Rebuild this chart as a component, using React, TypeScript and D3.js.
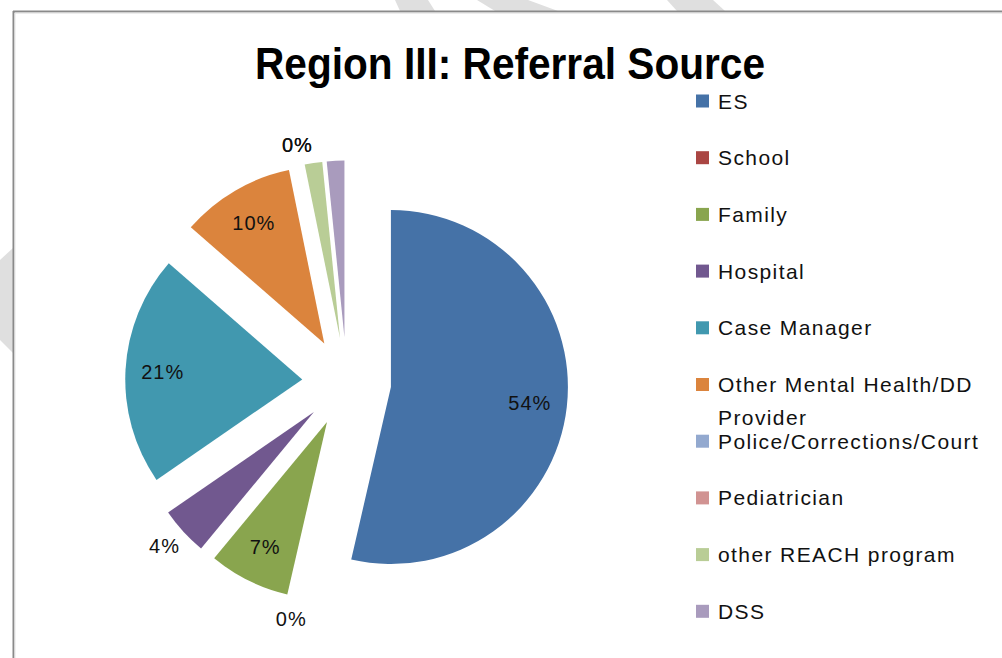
import React from "react";
import * as d3 from "d3";

// ---------- data ----------
const title = "Region III: Referral Source";
const categories = [
  "ES",
  "School",
  "Family",
  "Hospital",
  "Case Manager",
  "Other Mental Health/DD Provider",
  "Police/Corrections/Court",
  "Pediatrician",
  "other REACH program",
  "DSS",
];
const shares = [53.6, 0, 7.4, 4.4, 21.0, 10.4, 0, 0, 1.6, 1.6];
const colors = [
  "#4572A7",
  "#AA4643",
  "#89A54E",
  "#71588F",
  "#4198AF",
  "#DB843D",
  "#93A9CF",
  "#D19392",
  "#B9CD96",
  "#A99BBD",
];
// where each slice's percentage label goes
const labelModes = ["inside", "outside", "inside", "outside", "inside", "inside", "outside", "outside", "none", "none"];

// ---------- layout ----------
const W = 1002;
const H = 658;
const CX = 346.7;
const CY = 382;
const R = 177;
const EXPLODE = 44.5;
const FONT = "'Liberation Sans', Arial, sans-serif";
const LEGEND_FONT_SIZE = 21;
const LEGEND_LS = 1.4;
const LABEL_FONT_SIZE = 20;

let measureCtx: CanvasRenderingContext2D | null = null;
function textWidth(s: string, size: number, weight = "normal", ls = 0) {
  if (!measureCtx) {
    const c = document.createElement("canvas");
    measureCtx = c.getContext("2d");
  }
  if (!measureCtx) return s.length * size * 0.5;
  measureCtx.font = `${weight} ${size}px ${FONT}`;
  return measureCtx.measureText(s).width + ls * s.length;
}

function wrap(s: string, maxW: number): string[] {
  const words = s.split(" ");
  const lines: string[] = [];
  let cur = "";
  for (const w of words) {
    const test = cur ? cur + " " + w : w;
    if (cur && textWidth(test, LEGEND_FONT_SIZE, "normal", LEGEND_LS) > maxW) {
      lines.push(cur);
      cur = w;
    } else cur = test;
  }
  if (cur) lines.push(cur);
  return lines;
}

export default function App() {
  const total = d3.sum(shares);
  const pie = d3
    .pie<number>()
    .sort(null)
    .value((d) => d)
    .startAngle(0)
    .endAngle(2 * Math.PI);
  const arcs = pie(shares);
  const arcGen = d3.arc<d3.PieArcDatum<number>>().innerRadius(0).outerRadius(R);
  const fmt = d3.format(".0%");

  const legendX = 696;
  const legendBase0 = 108.5;
  const legendStep = 56.7;

  return (
    <svg
      width={W}
      height={H}
      style={{ position: "absolute", left: 0, top: 0, background: "#fff" }}
      fontFamily={FONT}
    >
      <rect x={0} y={0} width={W} height={H} fill="#fff" />
      {/* faint background watermark shapes */}
      <g fill="#dfdfdf">
        <polygon points="395,0 428,0 435,11 400,11" />
        <polygon points="477,0 528,0 558,11 495,11" />
        <polygon points="667,0 713,0 725,11 677,11" />
        <polygon points="13,248 0,260 0,340 13,353" />
      </g>
      {/* frame */}
      <line x1={13} y1={11.5} x2={W} y2={11.5} stroke="#8a8a8a" strokeWidth={2} />
      <line x1={13.5} y1={11} x2={13.5} y2={H} stroke="#8a8a8a" strokeWidth={2} />
      <line x1={15} y1={13} x2={W} y2={13} stroke="#dcdcdc" strokeWidth={1} />
      <line x1={15} y1={13} x2={15} y2={H} stroke="#e6e6e6" strokeWidth={1} />

      {/* title */}
      <text
        x={510}
        y={79}
        textAnchor="middle"
        fontSize={44}
        fontWeight="bold"
        fill="#000"
        textLength={510}
        lengthAdjust="spacingAndGlyphs"
      >
        {title}
      </text>

      {/* slices */}
      {arcs.map((a, i) => {
        const mid = (a.startAngle + a.endAngle) / 2;
        const dx = Math.sin(mid) * EXPLODE;
        const dy = -Math.cos(mid) * EXPLODE;
        if (a.endAngle - a.startAngle <= 0) return null;
        return (
          <path
            key={"s" + i}
            d={arcGen(a) || ""}
            transform={`translate(${CX + dx},${CY + dy})`}
            fill={colors[i]}
          />
        );
      })}

      {/* data labels */}
      {arcs.map((a, i) => {
        const mode = labelModes[i];
        if (mode === "none") return null;
        const mid = (a.startAngle + a.endAngle) / 2;
        const ux = Math.sin(mid);
        const uy = -Math.cos(mid);
        const ax = CX + ux * EXPLODE;
        const ay = CY + uy * EXPLODE;
        const label = fmt(a.data / total);
        let x: number;
        let y: number;
        if (mode === "inside") {
          x = ax + ux * R * 0.79;
          y = ay + uy * R * 0.79;
        } else {
          const w = textWidth(label, LABEL_FONT_SIZE, "normal", 1);
          const h = 22;
          x = ax + ux * (R + 10) + (ux * w) / 2;
          y = ay + uy * (R + 10) + (uy * h) / 2;
        }
        return (
          <text
            key={"l" + i}
            x={x}
            y={y}
            dy="0.36em"
            textAnchor="middle"
            fontSize={LABEL_FONT_SIZE}
            letterSpacing={1}
            fill="#111"
          >
            {label}
          </text>
        );
      })}

      {/* legend */}
      {categories.map((c, i) => {
        const base = legendBase0 + legendStep * i;
        const lines = wrap(c, 280);
        return (
          <g key={"g" + i}>
            <rect x={legendX} y={base - 14} width={13} height={13} fill={colors[i]} />
            <text
              x={legendX + 22}
              y={base}
              fontSize={LEGEND_FONT_SIZE}
              letterSpacing={LEGEND_LS}
              fill="#111"
            >
              {lines.map((ln, j) => (
                <tspan key={j} x={legendX + 22} dy={j === 0 ? 0 : 33}>
                  {ln}
                </tspan>
              ))}
            </text>
          </g>
        );
      })}
    </svg>
  );
}
